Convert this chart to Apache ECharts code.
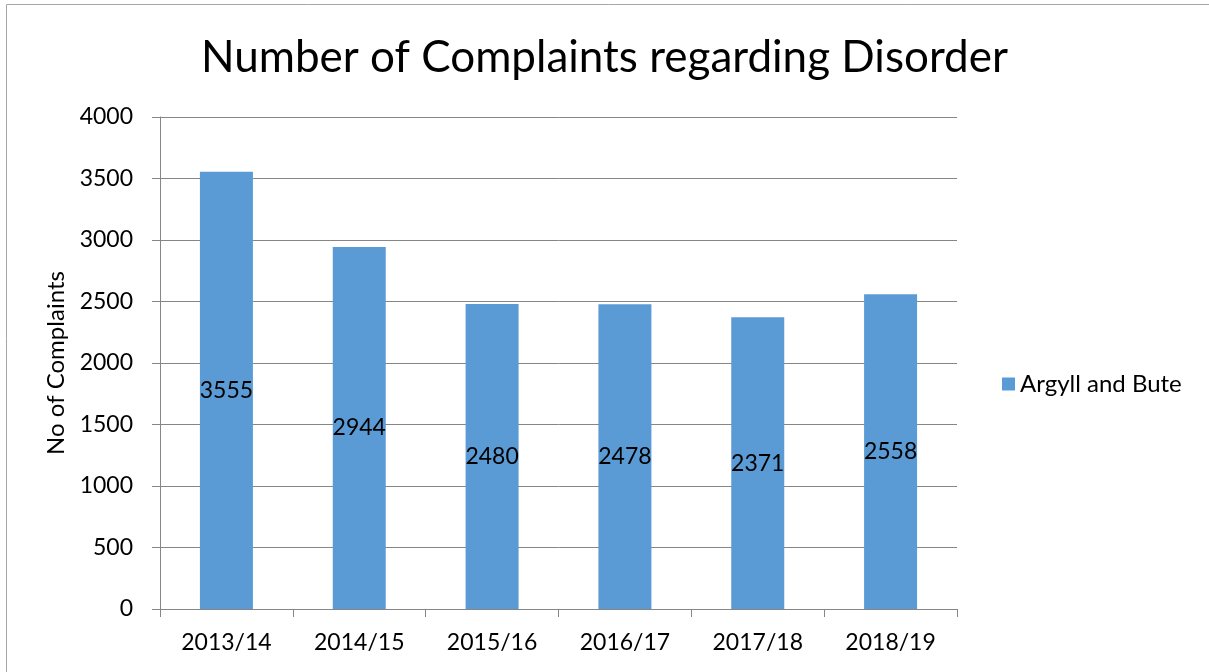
<!DOCTYPE html>
<html>
<head>
<meta charset="utf-8">
<script src="https://cdn.jsdelivr.net/npm/echarts@6/dist/echarts.min.js"></script>
<style>
html,body{margin:0;padding:0;background:#fff;}
#chart{width:1209px;height:672px;}
</style>
</head>
<body>
<div id="chart"></div>
<script>
var years = ['2013/14','2014/15','2015/16','2016/17','2017/18','2018/19'];
var complaints = [3555, 2944, 2480, 2478, 2371, 2558];
var seriesName = 'Argyll and Bute';

var fontName = 'Lato';
var myChart = echarts.init(document.getElementById('chart'));
myChart.setOption({
	animation:false,
	textStyle:{fontFamily:fontName},
	title:{
		text:'Number of Complaints regarding Disorder',
		left:'center',
		top:31,
		textStyle:{fontSize:44,fontWeight:'normal',color:'#000',fontFamily:fontName}
	},
	legend:{
		data:[seriesName],
		orient:'vertical',
		left:997,
		top:367,
		itemWidth:13,
		itemHeight:13,
		itemGap:6,
		icon:'rect',
		textStyle:{fontSize:24,color:'#000',fontFamily:fontName}
	},
	grid:{left:160,right:252,top:117,bottom:63},
	xAxis:{
		type:'category',
		data:years,
		axisLine:{lineStyle:{color:'#868686',width:1}},
		axisTick:{show:true,length:8,interval:0,lineStyle:{color:'#868686'}},
		axisLabel:{fontSize:23,color:'#000',margin:22,interval:0,fontFamily:fontName}
	},
	yAxis:{
		type:'value',
		min:0,
		max:4000,
		interval:500,
		name:'No of Complaints',
		nameLocation:'middle',
		nameGap:86,
		nameTextStyle:{fontSize:24,color:'#000',fontFamily:fontName},
		axisLine:{show:true,lineStyle:{color:'#868686',width:1}},
		axisTick:{show:true,length:8,lineStyle:{color:'#868686'}},
		axisLabel:{fontSize:23,color:'#000',margin:27,fontFamily:fontName,formatter:function(v){return String(v);}},
		splitLine:{lineStyle:{color:'#868686',width:1}}
	},
	graphic:[{
		type:'rect',
		shape:{x:6.5,y:4.5,width:1300,height:800},
		style:{fill:'none',stroke:'#a6a6a6',lineWidth:1},
		silent:true
	}],
	series:[{
		name:seriesName,
		type:'bar',
		data:complaints,
		barWidth:53,
		itemStyle:{color:'#5b9bd5'},
		label:{show:true,position:'inside',fontSize:23,color:'#000',fontFamily:fontName}
	}]
});
</script>
</body>
</html>
